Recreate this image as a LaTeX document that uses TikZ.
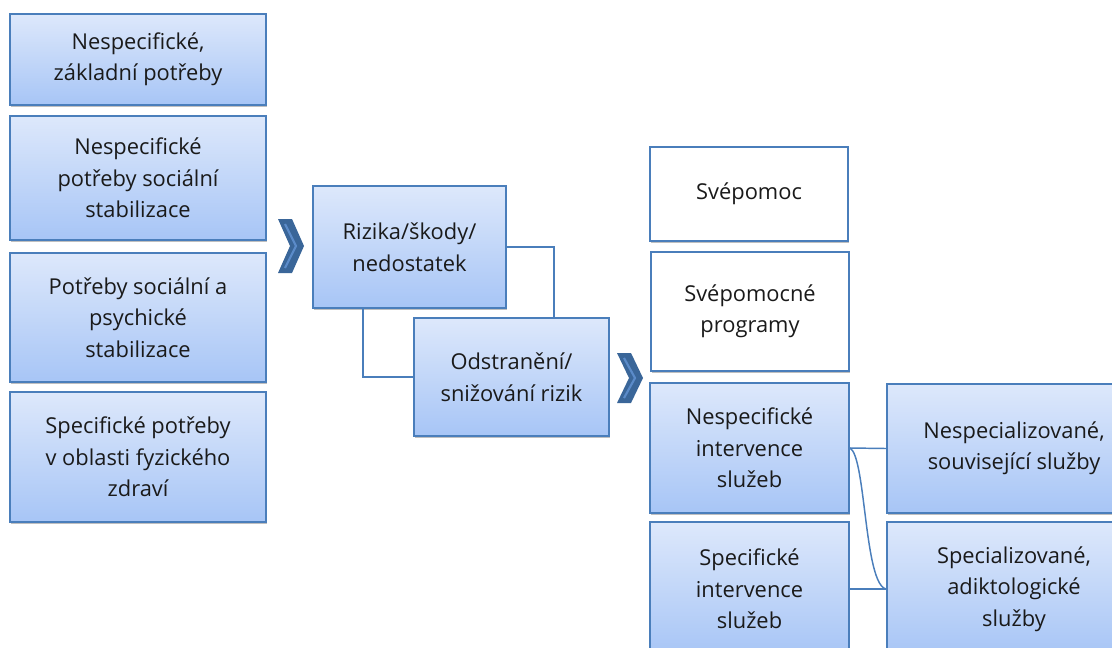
\documentclass[tikz,border=0pt]{standalone}
\usepackage{fontspec}
\setmainfont{Open Sans}
\usetikzlibrary{shadows}
\definecolor{bord}{HTML}{4A7EBB}
\definecolor{gtop}{HTML}{DDE8FB}
\definecolor{gbot}{HTML}{A7C5F6}
\definecolor{chevdark}{HTML}{3A6699}
\definecolor{chevlight}{HTML}{5B8BC9}
\definecolor{txt}{HTML}{1A1A1A}
\tikzset{
  boxbase/.style={draw=bord, line width=1.1pt, inner sep=0pt, align=center,
    text=txt, font=\fontsize{16.4}{23.6}\selectfont,
    drop shadow={shadow xshift=0.8pt, shadow yshift=-1.8pt, fill=black, opacity=0.25}},
  gradbox/.style={boxbase, top color=gtop, bottom color=gbot},
  whitebox/.style={boxbase, fill=white},
  sz/.style 2 args={minimum width=#1*0.75pt, minimum height=#2*0.75pt},
  conn/.style={draw=bord, line width=1.1pt},
  chev/.style={fill=chevdark, draw=none},
  chevin/.style={draw=chevlight, line width=1.6pt}
}
\begin{document}
\begin{tikzpicture}[x=0.75pt, y=-0.75pt]
\useasboundingbox (0,0) rectangle (1112,647);
\clip (0,0) rectangle (1112,647);
% left column
\node[gradbox, sz={256}{91}] (a1) at (138,59.5) {Nespecifické,\\základní potřeby};
\node[gradbox, sz={256}{124}] (a2) at (138,178) {Nespecifické\\potřeby sociální\\stabilizace};
\node[gradbox, sz={256}{129}] (a3) at (138,317.5) {Potřeby sociální a\\psychické\\stabilizace};
\node[gradbox, sz={256}{130}] (a4) at (138,457) {Specifické potřeby\\v oblasti fyzického\\zdraví};
% middle
\node[gradbox, sz={193}{122}] (b1) at (409.5,247) {Rizika/škody/\\nedostatek};
\node[gradbox, sz={195}{118}] (b2) at (511.5,377) {Odstranění/\\snižování rizik};
% right
\node[whitebox, sz={198}{94}] (c1) at (749,194) {\raisebox{-3pt}{Svépomoc}};
\node[whitebox, sz={198}{119}] (c2) at (750,311.5) {Svépomocné\\programy};
\node[gradbox, sz={199}{130}] (c3) at (749.5,448) {Nespecifické\\intervence\\služeb};
\node[gradbox, sz={199}{134}] (c4) at (749.5,589) {Specifické\\intervence\\služeb};
\node[gradbox, sz={254}{129}] (d1) at (1014,448.5) {Nespecializované,\\související služby};
\node[gradbox, sz={254}{134}] (d2) at (1014,589) {Specializované,\\adiktologické\\služby};
% connector helper coordinates
\coordinate (k1) at (554,0);
\coordinate (k2) at (363,0);
% connectors
\draw[conn] (b1.east) -| (b2.north -| k1);
\draw[conn] (b1.south -| k2) |- (b2.west);
\draw[conn] (c3.east) -- (d1.west);
\draw[conn] (c4.east) -- (d2.west);
\draw[conn] (c3.east) .. controls (866,455) and (864,585) .. (d2.west);
% chevrons
\fill[chev] (278,219) -- (292,219) -- (304,246) -- (292,273) -- (278,273) -- (290,246) -- cycle;
\draw[chevin] (285,224) -- (296,246) -- (285,268);
\fill[chev] (617,353) -- (631,353) -- (643,378) -- (631,403) -- (617,403) -- (629,378) -- cycle;
\draw[chevin] (624,358) -- (635,378) -- (624,398);
\end{tikzpicture}
\end{document}
